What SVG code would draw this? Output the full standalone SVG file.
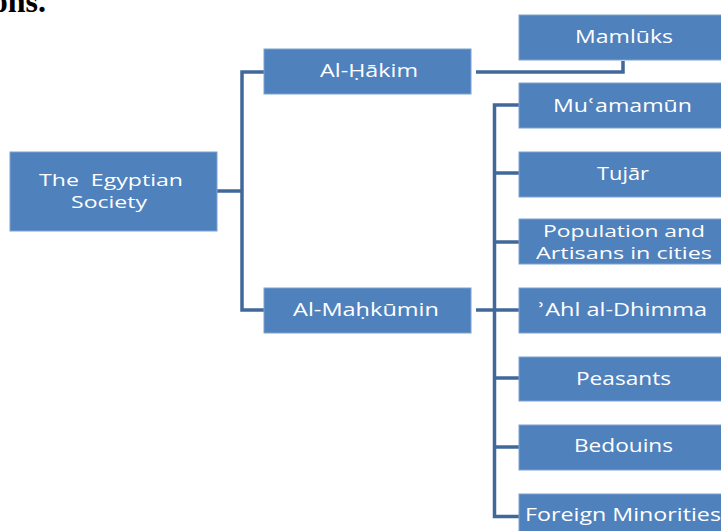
<svg xmlns="http://www.w3.org/2000/svg" width="721" height="531" viewBox="0 0 721 531">
<style>
.box{fill:#4f81bd;stroke:#7ea2d2;stroke-width:1}
.lbl{font-family:"Open Sans","DejaVu Sans",sans-serif;font-size:18px;fill:#ffffff;text-anchor:middle;white-space:pre}
.sm{font-size:17px}
.con{fill:none;stroke:#41689b;stroke-width:3.5;stroke-linejoin:miter}
</style>
<rect width="721" height="531" fill="#ffffff"/>
<text x="46" y="12" font-family="Liberation Serif,serif" font-weight="bold" font-size="32" text-anchor="end" fill="#000">ons.</text>
<g id="connectors">
<path class="con" d="M217 191H242M264 72H242V310H264"/>
<path class="con" d="M476 72H623V61"/>
<path class="con" d="M476 310H519"/>
<path class="con" d="M519 105H494.5V516.5H519M494.5 173H519M494.5 242H519M494.5 378H519M494.5 447H519"/>
</g>
<g id="root"><rect class="box" x="10" y="152" width="207" height="79"/>
<text class="lbl sm" x="111" y="186" textLength="144" lengthAdjust="spacingAndGlyphs">The  Egyptian</text>
<text class="lbl sm" x="109" y="208" textLength="76" lengthAdjust="spacingAndGlyphs">Society</text></g>
<g id="hakim"><rect class="box" x="264" y="49" width="207" height="45"/>
<text class="lbl" x="369" y="77" textLength="98" lengthAdjust="spacingAndGlyphs">Al-Ḥākim</text></g>
<g id="mahkumin"><rect class="box" x="264" y="288" width="207" height="45"/>
<text class="lbl" x="366" y="316" textLength="146" lengthAdjust="spacingAndGlyphs">Al-Maḥkūmin</text></g>
<g id="mamluks"><rect class="box" x="519" y="15" width="212" height="45"/>
<text class="lbl" x="624" y="43" textLength="98" lengthAdjust="spacingAndGlyphs">Mamlūks</text></g>
<g id="muamamun"><rect class="box" x="519" y="83" width="212" height="45"/>
<text class="lbl" x="622.5" y="112" textLength="139" lengthAdjust="spacingAndGlyphs">Muʿamamūn</text></g>
<g id="tujar"><rect class="box" x="519" y="152" width="212" height="45"/>
<text class="lbl" x="623" y="180" textLength="52" lengthAdjust="spacingAndGlyphs">Tujār</text></g>
<g id="population"><rect class="box" x="519" y="219" width="212" height="45"/>
<text class="lbl sm" x="624" y="237" textLength="162" lengthAdjust="spacingAndGlyphs">Population and</text>
<text class="lbl sm" x="624" y="259" textLength="176" lengthAdjust="spacingAndGlyphs">Artisans in cities</text></g>
<g id="ahl"><rect class="box" x="519" y="288" width="212" height="45"/>
<text class="lbl" x="622.5" y="316" textLength="169" lengthAdjust="spacingAndGlyphs">ʾAhl al-Dhimma</text></g>
<g id="peasants"><rect class="box" x="519" y="357" width="212" height="44"/>
<text class="lbl" x="623.5" y="385" textLength="95" lengthAdjust="spacingAndGlyphs">Peasants</text></g>
<g id="bedouins"><rect class="box" x="519" y="425" width="212" height="45"/>
<text class="lbl" x="623.5" y="452" textLength="99" lengthAdjust="spacingAndGlyphs">Bedouins</text></g>
<g id="foreign"><rect class="box" x="519" y="494" width="212" height="45"/>
<text class="lbl" x="623" y="521" textLength="196" lengthAdjust="spacingAndGlyphs">Foreign Minorities</text></g>
</svg>
